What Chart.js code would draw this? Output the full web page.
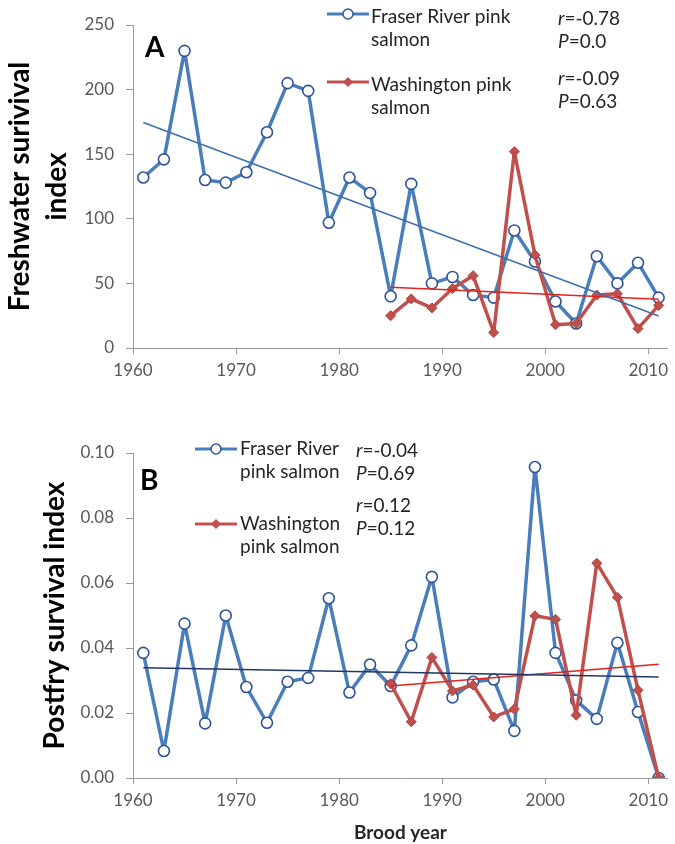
<!DOCTYPE html>
<html>
<head>
<meta charset="utf-8">
<script src="https://cdn.jsdelivr.net/npm/chart.js@4.4.0/dist/chart.umd.min.js"></script>
<style>
    html, body { margin: 0; padding: 0; background: #fff; }
    #wrap { position: relative; width: 675px; height: 844px; }
    #chartA { position: absolute; left: 0; top: 0; }
    #chartB { position: absolute; left: 0; top: 400px; }
</style>
</head>
<body>
<div id="wrap">
    <canvas id="chartA" width="675" height="400"></canvas>
    <canvas id="chartB" width="675" height="444"></canvas>
</div>
<script>
// brood years
const fraserYears = [1961, 1963, 1965, 1967, 1969, 1971, 1973, 1975, 1977, 1979, 1981, 1983, 1985,
                     1987, 1989, 1991, 1993, 1995, 1997, 1999, 2001, 2003, 2005, 2007, 2009, 2011];
const washYears = [1985, 1987, 1989, 1991, 1993, 1995, 1997, 1999, 2001, 2003, 2005, 2007, 2009, 2011];

// panel A - freshwater survival
const fraserFresh = [132, 146, 230, 130, 128, 136, 167, 205, 199, 97, 132, 120, 40,
                     127, 50, 55, 41, 39, 91, 67, 36, 19, 71, 50, 66, 39];
const washFresh = [25, 38, 31, 46, 56, 12, 152, 72, 18, 19, 41, 42, 15, 33];

// panel B - postfry survival
const fraserPostfry = [0.0385, 0.0083, 0.0475, 0.0168, 0.0500, 0.0280, 0.0170, 0.0296, 0.0308, 0.0553, 0.0263, 0.0349, 0.0283,
                       0.0408, 0.0619, 0.0248, 0.0296, 0.0303, 0.0145, 0.0957, 0.0385, 0.0239, 0.0182, 0.0416, 0.0203, 0.0000];
const washPostfry = [0.0290, 0.0173, 0.0371, 0.0268, 0.0286, 0.0188, 0.0212, 0.0499, 0.0488, 0.0193, 0.0661, 0.0556, 0.0270, 0.0000];

// trend lines (end points)
const fraserTrendYears = [1961, 2011];
const washTrendYears = [1985, 2011];
const fraserFreshTrend = [174.5, 24.8];
const washFreshTrend = [47, 37.7];
const fraserPostfryTrend = [0.0339, 0.0311];
const washPostfryTrend = [0.0283, 0.0350];

// labels
const freshTitle = ["Freshwater surivival", "index"];
const postfryTitle = "Postfry survival index";
const xTitle = "Brood year";
const statsA = [["r", "=-0.78"], ["P", "=0.0"], ["r", "=-0.09"], ["P", "=0.63"]];
const statsB = [["r", "=-0.04"], ["P", "=0.69"], ["r", "=0.12"], ["P", "=0.12"]];

const blue = "#4A7EBB";
const blueEdge = "#2F5597";
const red = "#C0504D";
const axisGray = "#9A9A9A";
const tickGray = "#595959";
const font = "Lato, 'Open Sans', sans-serif";

const pts = (xs, ys) => xs.map((x, i) => ({ x: x, y: ys[i] }));

function seriesSets(fraser, wash, fTrend, wTrend, fTrendColor) {
    return [
        { data: pts(fraserTrendYears, fTrend), showLine: true, borderColor: fTrendColor, borderWidth: 1.5,
          pointRadius: 0, order: 0 },
        { data: pts(washTrendYears, wTrend), showLine: true, borderColor: "#E8201A", borderWidth: 1.5,
          pointRadius: 0, order: 0 },
        { data: pts(washYears, wash), showLine: true, borderColor: red, borderWidth: 3.5,
          borderJoinStyle: "round", borderCapStyle: "round",
          pointStyle: "rectRot", pointRadius: 5, backgroundColor: red, pointBorderColor: "#B2403D",
          pointBorderWidth: 1, order: 1 },
        { data: pts(fraserYears, fraser), showLine: true, borderColor: blue, borderWidth: 3.5,
          borderJoinStyle: "round", borderCapStyle: "round",
          pointStyle: "circle", pointRadius: 5.5, pointBackgroundColor: "#fff", pointBorderColor: blueEdge,
          pointBorderWidth: 1.6, order: 2 }
    ];
}

// legend, stats and panel letter drawn on top of the plot
function overlay(cfg) {
    return {
        id: "overlay",
        afterDatasetsDraw(chart) {
            const ctx = chart.ctx;
            ctx.save();
            // legend entries
            cfg.legend.forEach(e => {
                ctx.strokeStyle = e.color;
                ctx.lineWidth = 3;
                ctx.beginPath();
                ctx.moveTo(e.x1, e.y);
                ctx.lineTo(e.x2, e.y);
                ctx.stroke();
                const mx = (e.x1 + e.x2) / 2;
                if (e.marker === "circle") {
                    ctx.beginPath();
                    ctx.arc(mx, e.y, 5, 0, Math.PI * 2);
                    ctx.fillStyle = "#fff";
                    ctx.fill();
                    ctx.lineWidth = 1.5;
                    ctx.strokeStyle = blueEdge;
                    ctx.stroke();
                } else {
                    ctx.beginPath();
                    ctx.moveTo(mx, e.y - 5);
                    ctx.lineTo(mx + 5, e.y);
                    ctx.lineTo(mx, e.y + 5);
                    ctx.lineTo(mx - 5, e.y);
                    ctx.closePath();
                    ctx.fillStyle = red;
                    ctx.fill();
                }
                ctx.fillStyle = "#262626";
                ctx.font = "19px " + font;
                ctx.textBaseline = "alphabetic";
                ctx.textAlign = "left";
                e.lines.forEach((t, i) => ctx.fillText(t, cfg.textX, e.base[i]));
            });
            // r / P values
            cfg.stats.forEach((s, i) => {
                ctx.font = "italic 19px " + font;
                ctx.fillStyle = "#262626";
                ctx.fillText(s[0], cfg.statX, cfg.statBase[i]);
                const w = ctx.measureText(s[0]).width;
                ctx.font = "19px " + font;
                ctx.fillText(s[1], cfg.statX + w, cfg.statBase[i]);
            });
            // panel letter
            ctx.font = "bold 28px " + font;
            ctx.fillStyle = "#000";
            ctx.fillText(cfg.letter, cfg.letterX, cfg.letterBase);
            ctx.restore();
        }
    };
}

function makeOptions(yMin, yMax, yStep, yDigits, yTitle, titlePad, xHeight, padTop, showXTitle) {
    return {
        responsive: false,
        animation: false,
        devicePixelRatio: 1,
        layout: { padding: { top: padTop, right: 0, bottom: 0, left: 0 } },
        plugins: { legend: { display: false }, tooltip: { enabled: false } },
        scales: {
            x: {
                type: "linear",
                min: 1960,
                max: 2011.9,
                afterFit: s => { s.height = xHeight; },
                border: { color: axisGray, width: 1 },
                grid: { drawOnChartArea: false, drawTicks: true, tickLength: 6, color: axisGray },
                ticks: {
                    stepSize: 10,
                    includeBounds: false,
                    maxRotation: 0,
                    padding: 6,
                    color: tickGray,
                    font: { size: 17, family: font },
                    callback: v => String(v)
                },
                title: {
                    display: showXTitle,
                    text: xTitle,
                    color: "#262626",
                    font: { size: 19, weight: "bold", family: font },
                    padding: { top: 2, bottom: 0 }
                }
            },
            y: {
                min: yMin,
                max: yMax,
                afterFit: s => { s.width = 133; },
                border: { color: axisGray, width: 1 },
                grid: { drawOnChartArea: false, drawTicks: true, tickLength: 7, color: axisGray },
                ticks: {
                    stepSize: yStep,
                    padding: 12,
                    color: tickGray,
                    font: { size: 17, family: font },
                    callback: v => v.toFixed(yDigits)
                },
                title: {
                    display: true,
                    text: yTitle,
                    color: "#000",
                    font: { size: 28, weight: "bold", family: font, lineHeight: 1.3 },
                    padding: { top: titlePad, bottom: 0 }
                }
            }
        }
    };
}

// Panel A
new Chart(document.getElementById("chartA").getContext("2d"), {
    type: "scatter",
    data: { datasets: seriesSets(fraserFresh, washFresh, fraserFreshTrend, washFreshTrend, "#3D6FAE") },
    options: makeOptions(0, 250, 50, 0, freshTitle, 2, 52, 25, false),
    plugins: [overlay({
        legend: [
            { x1: 327, x2: 369, y: 14, color: blue, marker: "circle", lines: ["Fraser River pink", "salmon"], base: [23, 46] },
            { x1: 327, x2: 369, y: 82, color: red, marker: "diamond", lines: ["Washington pink", "salmon"], base: [91, 114] }
        ],
        textX: 371,
        stats: statsA,
        statX: 558,
        statBase: [25, 48, 85, 108],
        letter: "A",
        letterX: 145,
        letterBase: 57
    })]
});

// Panel B
new Chart(document.getElementById("chartB").getContext("2d"), {
    type: "scatter",
    data: { datasets: seriesSets(fraserPostfry, washPostfry, fraserPostfryTrend, washPostfryTrend, "#1F3864") },
    options: makeOptions(0, 0.1, 0.02, 2, postfryTitle, 37, 66, 53, true),
    plugins: [overlay({
        legend: [
            { x1: 195, x2: 237, y: 49, color: blue, marker: "circle", lines: ["Fraser River", "pink salmon"], base: [55, 78] },
            { x1: 195, x2: 237, y: 124, color: red, marker: "diamond", lines: ["Washington", "pink salmon"], base: [130, 153] }
        ],
        textX: 240,
        stats: statsB,
        statX: 356,
        statBase: [57, 80, 112, 135],
        letter: "B",
        letterX: 140,
        letterBase: 90
    })]
});
</script>
</body>
</html>
